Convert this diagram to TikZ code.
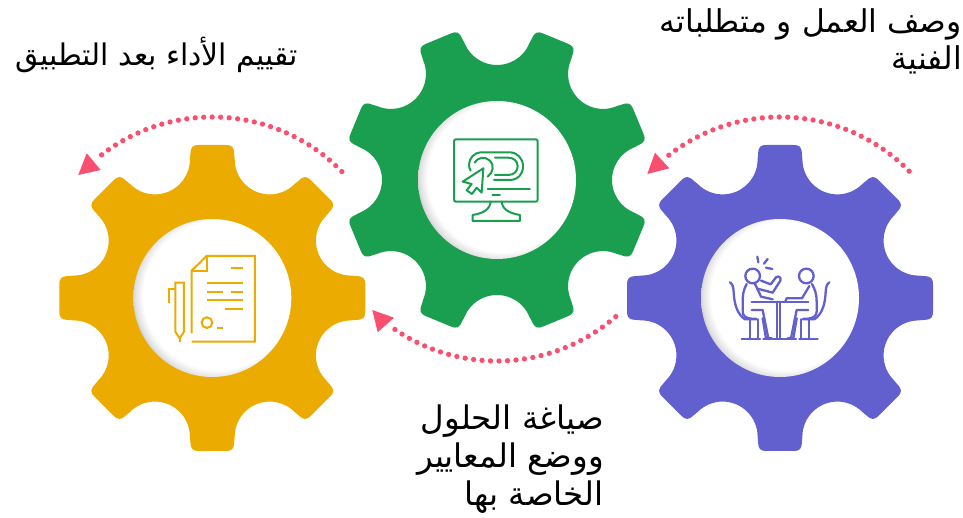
\documentclass[tikz,border=0pt]{standalone}
\usepackage{fontspec}
\newfontfamily\arabicfont[Script=Arabic]{DejaVu Sans}
\TeXXeTstate=1
\definecolor{gearGreen}{RGB}{26,158,79}
\definecolor{gearOrange}{RGB}{235,171,0}
\definecolor{gearPurple}{RGB}{98,96,207}
\definecolor{dotPink}{RGB}{251,79,111}
\pgfdeclareradialshading{dimple}{\pgfpoint{3bp}{1.5bp}}{color(0bp)=(white);color(23.5bp)=(white);color(26bp)=(black!12);color(28.4bp)=(black!38);color(50bp)=(black!38)}
\newcommand{\drawgear}[4]{% x, y, rotation, colour
  \fill[#4] ([shift={(#1,#2)},rotate=#3]138.6,-22.4)
  \foreach \a [evaluate=\a as \t using \a+#3] in {0,45,...,315}{
    -- ([shift={(#1,#2)},rotate=\t]144,-21.9)
    .. controls ([shift={(#1,#2)},rotate=\t]151,-21.6) and ([shift={(#1,#2)},rotate=\t]153,-20) .. ([shift={(#1,#2)},rotate=\t]153,-13)
    -- ([shift={(#1,#2)},rotate=\t]153,13)
    .. controls ([shift={(#1,#2)},rotate=\t]153,20) and ([shift={(#1,#2)},rotate=\t]151,21.6) .. ([shift={(#1,#2)},rotate=\t]144,21.9)
    -- ([shift={(#1,#2)},rotate=\t]138.6,22.4)
    arc[start angle={\t-90},delta angle=-135,radius=35]
  } -- cycle;
}
\tikzset{
  hub/.style={circle,draw=none,shading=dimple,minimum size=158pt,inner sep=0pt},
  dotline/.style={draw=dotPink,line width=5.3pt,line cap=round,dash pattern=on 0pt off 8.5pt},
  tipfill/.style={fill=dotPink},
  icon/.style={line width=2pt,line join=round,line cap=round},
  label/.style={inner sep=0pt,align=right,text=black},
}
\begin{document}
\begin{tikzpicture}[x=1pt,y=1pt]
\useasboundingbox (0,0) rectangle (963,518);
% gears
\drawgear{212.3}{220}{0}{gearOrange}
\drawgear{780}{220}{0}{gearPurple}
\drawgear{497}{338}{22.5}{gearGreen}
\node[hub] (hubO) at (212.3,220) {};
\node[hub] (hubP) at (780,220) {};
\node[hub] (hubG) at (497,338) {};
% dotted arcs
\draw[dotline] ([shift={(44.5:181)}]hubP.center) arc[start angle=44.5,end angle=129.5,radius=181];
\fill[tipfill] (647.3,344) -- (655,365.3) -- (669.3,349.7) -- cycle;
\draw[dotline] ([shift={(44.3:181)}]hubO.center) arc[start angle=44.3,end angle=130,radius=181];
\fill[tipfill] (78.3,343) -- (86.7,364.7) -- (100.7,348) -- cycle;
\draw[dotline] ([shift={(-49:181)}]hubG.center) arc[start angle=-49,end angle=-126,radius=181];
\fill[tipfill] (372.3,208) -- (394,200.3) -- (377.7,185.7) -- cycle;
% monitor icon
\begin{scope}[shift={(400pt,398pt)},x=.3333pt,y=-.3333pt,icon,draw=gearGreen]
\draw[rounded corners=2pt] (162,58) rectangle (413,245);
\draw (277,226) -- (300,226);
\draw (263,207) -- (390,207);
\draw (272,245) .. controls (270,268) and (250,280) .. (218,285) -- (218,303) -- (360,303) -- (360,285) .. controls (328,280) and (307,268) .. (305,245);
\draw (282,180) -- (328,180) .. controls (355,180) and (369,162) .. (369,139) .. controls (369,115) and (352,97) .. (328,97) -- (245,97) .. controls (222,97) and (207,115) .. (207,135) .. controls (207,142) and (209,147) .. (212,152);
\draw (285,165) -- (325,165) .. controls (342,165) and (353,153) .. (353,139) .. controls (353,124) and (342,113) .. (325,113) -- (285,113);
\draw (224,128) .. controls (232,112) and (255,108) .. (270,122) .. controls (283,135) and (280,158) .. (263,170);
\draw (250,145) -- (188,185) -- (215,192) -- (200,211) -- (216,222) -- (230,203) -- (245,218) -- cycle;
\end{scope}
% people icon
\begin{scope}[shift={(700pt,288pt)},x=.3333pt,y=-.3333pt,icon,draw=gearPurple,line width=2.3pt]
\draw (158,138) circle (22);
\draw (319,138) circle (22);
\draw (172,80) -- (175,97);
\draw (203,87) -- (192,101);
\draw (198,113) -- (217,117);
\draw (155,215) -- (325,215);
\draw (230,215) -- (230,325);
\draw (241,215) -- (241,325);
\draw (190,328) -- (288,328);
% left figure
\draw (140,162) .. controls (130,180) and (128,195) .. (128,215) -- (128,245) .. controls (128,258) and (140,266) .. (155,266) -- (168,266);
\draw (90,157) .. controls (102,165) and (100,180) .. (102,200) .. controls (105,230) and (115,255) .. (135,268) -- (170,268);
\draw (150,268) -- (150,328);
\draw (175,268) -- (175,328);
\draw (125,328) -- (180,328);
\draw (165,162) -- (183,200) -- (218,208);
\draw (183,152) -- (212,163) -- (228,142) .. controls (235,136) and (245,143) .. (241,152) -- (218,188) -- (172,176);
\draw (155,240) -- (188,240) -- (205,325);
\draw (188,265) -- (198,325) -- (215,325);
% right figure
\draw (336,162) .. controls (346,180) and (350,195) .. (350,215) -- (350,245) .. controls (350,258) and (338,266) .. (323,266) -- (310,266);
\draw (388,157) .. controls (376,165) and (378,180) .. (376,200) .. controls (373,230) and (363,255) .. (343,268) -- (308,268);
\draw (328,268) -- (328,328);
\draw (303,268) -- (303,328);
\draw (298,328) -- (353,328);
\draw (328,168) -- (306,205) -- (260,205) -- (256,215);
\draw (325,240) -- (290,240) -- (273,325);
\draw (290,265) -- (280,325) -- (263,325);
\end{scope}
% document icon
\begin{scope}[shift={(140pt,288pt)},x=.3333pt,y=-.3333pt,icon,draw=gearOrange,line cap=butt,line join=miter]
\draw (155,310) -- (155,122) -- (200,78) -- (345,78) -- (345,335) -- (155,335);
\draw (155,122) -- (200,122) -- (200,78);
\draw (273,115) -- (308,115);
\draw (202,159) -- (308,159);
\draw (202,185) -- (250,185);
\draw (273,185) -- (308,185);
\draw (202,211) -- (308,211);
\draw (255,237) -- (308,237);
\draw (201,278) circle (16);
\draw (232,293) -- (250,293);
\draw (106,158) -- (132,158) -- (132,305) -- (119,325) -- (106,305) -- cycle;
\draw (119,325) -- (119,337);
\draw (106,176) -- (88,176) -- (88,218);
\end{scope}
% labels
\node[label,anchor=east,font=\arabicfont\fontsize{29.8}{37}\selectfont] (t1) at (298,463) {\beginR تقييم الأداء بعد التطبيق\endR};
\node[label,anchor=north east,font=\arabicfont\fontsize{31.4}{37}\selectfont] (t2) at (962,510) {\beginR وصف العمل و متطلباته\endR\\\beginR الفنية\endR};
\node[label,anchor=south east,font=\arabicfont\fontsize{32.5}{38}\selectfont] (t3) at (604,4) {\beginR صياغة الحلول\endR\\\beginR ووضع المعايير\endR\\\beginR الخاصة بها\endR};
\end{tikzpicture}
\end{document}
